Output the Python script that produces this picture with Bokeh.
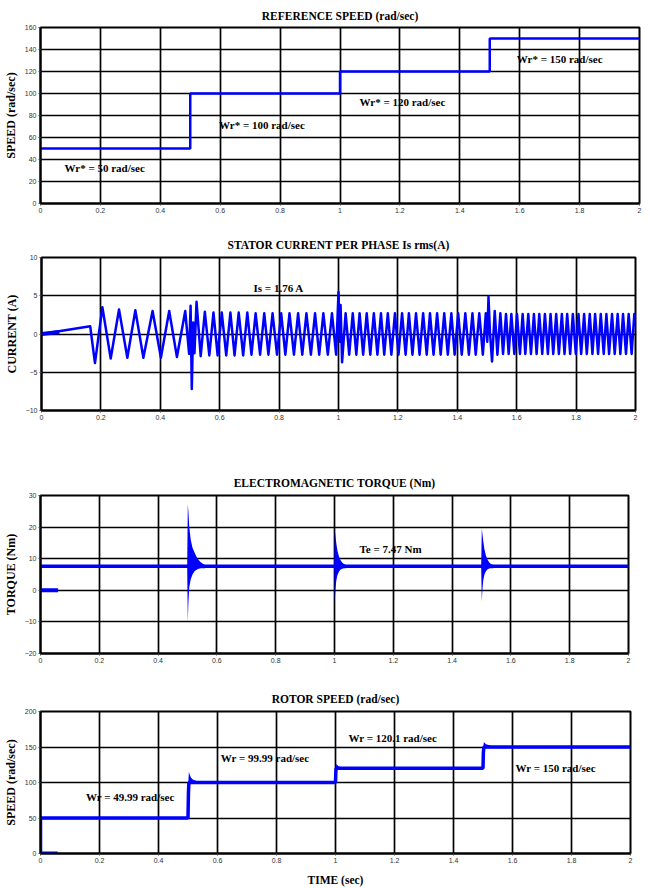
from bokeh.plotting import figure
from bokeh.layouts import column
from bokeh.models import ColumnDataSource, FixedTicker, NumeralTickFormatter, Range1d
from bokeh.core.properties import value
from bokeh.embed import file_html
from bokeh.resources import INLINE

BLUE = "#0000ff"
SERIF = "Liberation Serif"
SANS = "Liberation Sans"

# ---------------- data ----------------
time_ticks = [0, 0.2, 0.4, 0.6, 0.8, 1.0, 1.2, 1.4, 1.6, 1.8, 2.0]

# Panel 1: reference speed
ref_step_t = [0.0, 0.5, 1.0, 1.5, 2.0]
ref_step_w = [50, 100, 120, 150, 150]
ref_ticks = [0, 20, 40, 60, 80, 100, 120, 140, 160]
ref_text = ["Wr* = 50 rad/sec", "Wr* = 100 rad/sec", "Wr* = 120 rad/sec", "Wr* = 150 rad/sec"]
ref_text_x = [0.08, 0.596, 1.065, 1.59]
ref_text_y = [32.7, 71.8, 92.7, 131.0]

# Panel 2: stator current (extrema)
cur_start_t = [0.0, 0.06]
cur_start_v = [0.0, 0.25]
cur_a_t = [0.000, 0.164, 0.180, 0.205, 0.233, 0.261, 0.289, 0.316, 0.343, 0.374,
           0.402, 0.430, 0.456, 0.484, 0.497, 0.502, 0.506, 0.511, 0.515, 0.522]
cur_a_v = [0.0, 1.0, -3.8, 3.5, -3.2, 3.2, -3.1, 3.1, -3.1, 3.0,
           -3.1, 3.0, -3.0, 3.0, -2.6, 3.7, -7.2, 1.5, -2.5, 4.2]
cur_b_t = [0.536, 0.550, 0.565, 0.579, 0.593, 0.607, 0.622, 0.636, 0.650, 0.664,
           0.679, 0.693, 0.707, 0.721, 0.736, 0.750, 0.764, 0.778, 0.793, 0.807,
           0.821, 0.835, 0.850, 0.864, 0.878, 0.892, 0.907, 0.921, 0.935, 0.949,
           0.964, 0.978, 0.992, 1.000, 1.004, 1.007, 1.012]
cur_b_v = [-2.9, 2.9, -2.8, 2.8, -2.8, 2.8, -2.8, 2.8, -2.8, 2.8,
           -2.8, 2.8, -2.7, 2.7, -2.7, 2.7, -2.7, 2.7, -2.7, 2.7,
           -2.7, 2.7, -2.7, 2.7, -2.7, 2.7, -2.7, 2.7, -2.7, 2.7,
           -2.7, 2.7, -2.7, 5.5, -1.0, 3.8, -3.7]
cur_c_t = [1.024, 1.036, 1.048, 1.060, 1.071, 1.083, 1.095, 1.107, 1.119, 1.131,
           1.143, 1.154, 1.166, 1.178, 1.190, 1.202, 1.214, 1.226, 1.237, 1.249,
           1.261, 1.273, 1.285, 1.297, 1.308, 1.320, 1.332, 1.344, 1.356, 1.368,
           1.380, 1.391, 1.403, 1.415, 1.427, 1.439, 1.451, 1.462, 1.474, 1.486,
           1.496, 1.501, 1.505, 1.510, 1.517]
cur_c_v = [2.7, -2.7, 2.7, -2.7, 2.7, -2.7, 2.7, -2.7, 2.7, -2.7,
           2.7, -2.7, 2.7, -2.7, 2.7, -2.7, 2.7, -2.7, 2.7, -2.7,
           2.7, -2.7, 2.7, -2.7, 2.7, -2.7, 2.7, -2.7, 2.7, -2.7,
           2.7, -2.7, 2.7, -2.7, 2.7, -2.7, 2.7, -2.7, 2.7, -2.7,
           2.7, -1.0, 4.9, 0.2, -3.6]
cur_d_t = [1.526, 1.535, 1.545, 1.554, 1.564, 1.573, 1.582, 1.592, 1.601, 1.611,
           1.620, 1.629, 1.639, 1.648, 1.658, 1.667, 1.676, 1.686, 1.695, 1.705,
           1.714, 1.723, 1.733, 1.742, 1.752, 1.761, 1.770, 1.780, 1.789, 1.799,
           1.808, 1.817, 1.827, 1.836, 1.846, 1.855, 1.864, 1.874, 1.883, 1.893,
           1.902, 1.911, 1.921, 1.930, 1.940, 1.949, 1.958, 1.968, 1.977, 1.987,
           1.996, 2.000]
cur_d_v = [3.0, -2.7, 2.7, -2.6, 2.6, -2.6, 2.6, -2.6, 2.6, -2.6,
           2.6, -2.6, 2.6, -2.6, 2.6, -2.6, 2.6, -2.6, 2.6, -2.6,
           2.6, -2.6, 2.6, -2.6, 2.6, -2.6, 2.6, -2.6, 2.6, -2.6,
           2.6, -2.6, 2.6, -2.6, 2.6, -2.6, 2.6, -2.6, 2.6, -2.6,
           2.6, -2.6, 2.6, -2.6, 2.6, -2.6, 2.6, -2.6, 2.6, -2.6,
           2.6, 1.0]
cur_ticks = [-10, -5, 0, 5, 10]
cur_text = ["Is = 1.76 A"]
cur_text_x = [0.714]
cur_text_y = [5.95]

# Panel 3: electromagnetic torque
tq_zero_t = [0.0, 0.06]
tq_zero_v = [0.0, 0.0]
tq_rise_t = [0.0, 0.0]
tq_rise_v = [0.0, 7.8]
tq_band_t = [0.0, 2.0]
tq_band_v = [7.6, 7.6]
tq_ev1_t = [0.499, 0.501, 0.503, 0.506, 0.511, 0.517, 0.524, 0.531, 0.538, 0.545, 0.552, 0.560]
tq_ev1_hi = [8.0, 27.2, 25.0, 20.0, 16.0, 13.5, 12.0, 10.5, 9.6, 8.9, 8.4, 8.0]
tq_ev1_lo = [7.0, -10.0, -4.0, 1.0, 3.5, 5.0, 6.0, 6.5, 6.8, 7.0, 7.0, 7.0]
tq_ev2_t = [0.999, 1.001, 1.003, 1.006, 1.010, 1.015, 1.020, 1.026, 1.032, 1.040]
tq_ev2_hi = [8.0, 19.2, 17.5, 15.0, 12.5, 10.8, 9.6, 8.8, 8.3, 8.0]
tq_ev2_lo = [7.0, -3.5, 0.0, 3.0, 4.8, 5.9, 6.5, 6.8, 7.0, 7.0]
tq_ev3_t = [1.499, 1.501, 1.503, 1.506, 1.510, 1.515, 1.520, 1.526, 1.532, 1.540]
tq_ev3_hi = [8.0, 19.6, 18.0, 15.5, 13.0, 11.0, 9.8, 8.9, 8.3, 8.0]
tq_ev3_lo = [7.0, -3.6, 0.0, 3.2, 5.0, 6.0, 6.6, 6.9, 7.0, 7.0]
tq_ticks = [-20, -10, 0, 10, 20, 30]
tq_text = ["Te = 7.47 Nm"]
tq_text_x = [1.085]
tq_text_y = [13.2]

# Panel 4: rotor speed
rs_zero_t = [0.0, 0.058]
rs_zero_w = [0.0, 0.0]
rs_t = [0.0, 0.0, 0.500, 0.5015, 0.503, 1.000, 1.0012, 1.002, 1.500, 1.5012, 1.503, 2.000]
rs_w = [0, 50, 50, 85, 100, 100, 115, 120, 120, 142, 150, 150]
rs_ev1_t = [0.501, 0.503, 0.506, 0.510, 0.515, 0.522, 0.530, 0.540, 0.550]
rs_ev1_hi = [100, 115, 111, 107, 104.5, 103, 102, 101, 100.5]
rs_ev1_lo = [90, 96, 97, 98, 98.5, 99, 99.5, 99.5, 100]
rs_ev2_t = [1.001, 1.003, 1.006, 1.010, 1.016, 1.024, 1.032, 1.040]
rs_ev2_hi = [120, 126, 124.5, 123, 122, 121.2, 120.6, 120.2]
rs_ev2_lo = [112, 117, 118, 118.5, 119, 119.5, 119.8, 120]
rs_ev3_t = [1.501, 1.503, 1.506, 1.510, 1.516, 1.524, 1.532, 1.540]
rs_ev3_hi = [150, 157, 155.5, 154, 153, 152, 151, 150.5]
rs_ev3_lo = [140, 147, 148, 148.5, 149, 149.5, 149.8, 150]
rs_ticks = [0, 50, 100, 150, 200]
rs_text = ["Wr = 49.99 rad/sec", "Wr = 99.99 rad/sec", "Wr = 120.1 rad/sec", "Wr = 150 rad/sec"]
rs_text_x = [0.154, 0.611, 1.044, 1.61]
rs_text_y = [80, 135, 163, 121]


# ---------------- helpers ----------------
def make_fig(height, top, bottom, left, right, yr, yticks, title, ylabel,
             title_standoff, xlabel=None):
    p = figure(width=650, height=height, x_range=Range1d(0, 2), y_range=Range1d(*yr),
               output_backend="svg", toolbar_location=None, title=title,
               min_border_top=top, min_border_bottom=bottom,
               min_border_left=left, min_border_right=right, frame_align=False)
    p.title.align = "center"
    p.title.text_font = SERIF
    p.title.text_font_style = "bold"
    p.title.text_font_size = "11.5px"
    p.title.text_color = "black"
    p.title.standoff = title_standoff
    p.background_fill_color = "white"
    p.border_fill_color = "white"
    p.outline_line_color = "black"
    p.outline_line_width = 2
    p.xaxis.ticker = FixedTicker(ticks=time_ticks)
    p.xaxis.formatter = NumeralTickFormatter(format="0.[0]")
    p.yaxis.ticker = FixedTicker(ticks=yticks)
    for ax in (p.xaxis[0], p.yaxis[0]):
        ax.axis_line_color = "black"
        ax.axis_line_width = 2
        ax.major_tick_in = 0
        ax.major_tick_out = 2
        ax.minor_tick_line_color = None
        ax.major_tick_line_color = "#444444"
        ax.major_label_text_font = SANS
        ax.major_label_text_font_size = "7px"
        ax.major_label_text_color = "#333333"
        ax.major_label_standoff = 2
        ax.axis_label_text_font = SERIF
        ax.axis_label_text_font_style = "bold"
        ax.axis_label_text_font_size = "12px"
        ax.axis_label_text_color = "black"
    p.yaxis.axis_label = ylabel
    p.yaxis.axis_label_standoff = 4
    if xlabel:
        p.xaxis.axis_label = xlabel
        p.xaxis.axis_label_standoff = 8
        p.xaxis.axis_label_text_font_size = "11.5px"
    p.grid.grid_line_color = "black"
    p.grid.grid_line_width = 1.7
    return p


def add_text(p, xs, ys, texts):
    src = ColumnDataSource(dict(x=xs, y=ys, t=texts))
    p.text(x="x", y="y", text="t", source=src, text_font=value(SERIF),
           text_font_style="bold", text_font_size="11px", text_color="black",
           text_align="left", text_baseline="middle")


# ---------------- panel 1 ----------------
p1 = make_fig(228, 27, 25, 38, 11, (0, 160), ref_ticks,
              "REFERENCE SPEED (rad/sec)", "SPEED (rad/sec)", 12)
p1.step(ref_step_t, ref_step_w, mode="after", line_color=BLUE, line_width=2.5)
add_text(p1, ref_text_x, ref_text_y, ref_text)

# ---------------- panel 2 ----------------
p2 = make_fig(240, 29, 58, 41, 15, (-10, 10), cur_ticks,
              "STATOR CURRENT PER PHASE Is rms(A)", "CURRENT (A)", 14)
cur_t = cur_a_t + cur_b_t + cur_c_t + cur_d_t
cur_v = cur_a_v + cur_b_v + cur_c_v + cur_d_v
p2.line(cur_t, cur_v, line_color=BLUE, line_width=2.5, line_join="round")
p2.line(cur_start_t, cur_start_v, line_color=BLUE, line_width=4)
add_text(p2, cur_text_x, cur_text_y, cur_text)

# ---------------- panel 3 ----------------
p3 = make_fig(213, 27, 28, 38, 22, (-20, 30), tq_ticks,
              "ELECTROMAGNETIC TORQUE (Nm)", "TORQUE (Nm)", 13)
p3.line(tq_band_t, tq_band_v, line_color=BLUE, line_width=3.5)
p3.line(tq_zero_t, tq_zero_v, line_color=BLUE, line_width=4)
p3.line(tq_rise_t, tq_rise_v, line_color=BLUE, line_width=2)
for tt, hi, lo in ((tq_ev1_t, tq_ev1_hi, tq_ev1_lo),
                   (tq_ev2_t, tq_ev2_hi, tq_ev2_lo),
                   (tq_ev3_t, tq_ev3_hi, tq_ev3_lo)):
    p3.varea(x=tt, y1=lo, y2=hi, fill_color=BLUE)
add_text(p3, tq_text_x, tq_text_y, tq_text)

# ---------------- panel 4 ----------------
p4 = make_fig(207, 30, 35, 34, 20, (0, 200), rs_ticks,
              "ROTOR SPEED (rad/sec)", "SPEED (rad/sec)", 13, xlabel="TIME (sec)")
p4.line(rs_t, rs_w, line_color=BLUE, line_width=3.5)
p4.line(rs_zero_t, rs_zero_w, line_color=BLUE, line_width=4)
for tt, hi, lo in ((rs_ev1_t, rs_ev1_hi, rs_ev1_lo),
                   (rs_ev2_t, rs_ev2_hi, rs_ev2_lo),
                   (rs_ev3_t, rs_ev3_hi, rs_ev3_lo)):
    p4.varea(x=tt, y1=lo, y2=hi, fill_color=BLUE)
add_text(p4, rs_text_x, rs_text_y, rs_text)

layout = column(p1, p2, p3, p4, spacing=0)
open("out.html", "w").write(file_html(layout, INLINE))
